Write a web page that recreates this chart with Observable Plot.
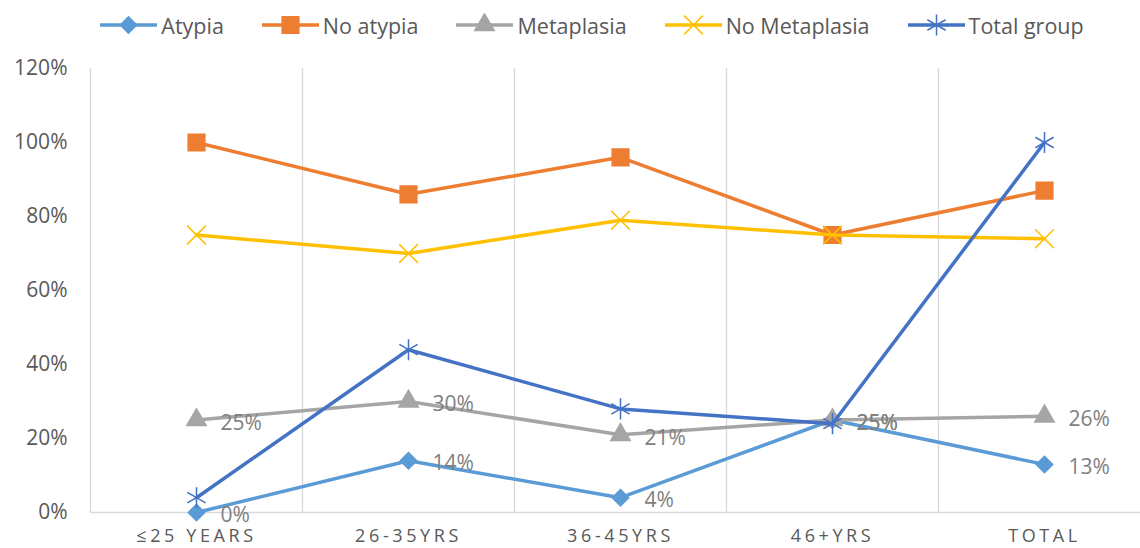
<!DOCTYPE html>
<html>
<head>
<meta charset="utf-8">
<script src="https://cdn.jsdelivr.net/npm/d3@7"></script>
<script src="https://cdn.jsdelivr.net/npm/@observablehq/plot@0.6"></script>
<style>
  html, body { margin: 0; padding: 0; background: #fff; }
  body { width: 1140px; height: 548px; overflow: hidden; font-family: "Open Sans", sans-serif; }
  #legend { height: 50px; display: flex; align-items: center; justify-content: center; padding-left: 44px; box-sizing: border-box; }
  .item { display: flex; align-items: center; margin-right: 38px; font-size: 21.5px; color: #595959; }
  .item:last-child { margin-right: 0; }
  .item svg { margin-right: 4px; }
  #chart g[aria-label="x-axis tick label"] text { letter-spacing: 3.6px; }
</style>
</head>
<body>
<div id="legend"></div>
<div id="chart"></div>
<script>
const categories = ["≤25 YEARS", "26-35YRS", "36-45YRS", "46+YRS", "TOTAL"];
const seriesNames = ["Atypia", "No atypia", "Metaplasia", "No Metaplasia", "Total group"];
const atypia = [0.00, 0.14, 0.04, 0.25, 0.13];
const noAtypia = [1.00, 0.86, 0.96, 0.75, 0.87];
const metaplasia = [0.25, 0.30, 0.21, 0.25, 0.26];
const noMetaplasia = [0.75, 0.70, 0.79, 0.75, 0.74];
const totalGroup = [0.04, 0.44, 0.28, 0.24, 1.00];
const labelledSeries = ["Atypia", "Metaplasia"];
const yTicks = [0, 0.2, 0.4, 0.6, 0.8, 1.0, 1.2];

const colors = {"Atypia": "#5B9BD5", "No atypia": "#ED7D31", "Metaplasia": "#A5A5A5", "No Metaplasia": "#FFC000", "Total group": "#4472C4"};
const styles = {
  "Atypia": {symbol: "diamond2", r: 7.4, filled: true},
  "No atypia": {symbol: "square", r: 9.4, filled: true},
  "Metaplasia": {symbol: "triangle", r: 7.2, filled: true},
  "No Metaplasia": {symbol: "times", r: 8.6, filled: false},
  "Total group": {symbol: "asterisk", r: 10, filled: false}
};
const values = [atypia, noAtypia, metaplasia, noMetaplasia, totalGroup];
const data = [];
seriesNames.forEach((s, si) => values[si].forEach((v, i) => data.push({series: s, i, cat: categories[i], value: v})));

// Legend
const d3sym = {"diamond2": d3.symbolDiamond2, "square": d3.symbolSquare, "triangle": d3.symbolTriangle, "times": d3.symbolTimes, "asterisk": d3.symbolAsterisk};
const legend = document.getElementById("legend");
seriesNames.forEach(s => {
  const st = styles[s];
  const item = document.createElement("div");
  item.className = "item";
  const w = 57, h = 24;
  const path = d3.symbol(d3sym[st.symbol], Math.PI * st.r * st.r)();
  item.innerHTML = `<svg width="${w}" height="${h}"><line x1="0" x2="${w}" y1="${h/2}" y2="${h/2}" stroke="${colors[s]}" stroke-width="3.5"/>` +
    `<path d="${path}" transform="translate(${w/2},${h/2})" fill="${st.filled ? colors[s] : "none"}" stroke="${colors[s]}" stroke-width="1.5"/></svg><span>${s}</span>`;
  legend.appendChild(item);
});

const grid = "#d9d9d9";
const marks = [
  Plot.ruleX([0.5, 1.5, 2.5, 3.5], {y1: 0, y2: 1.2, stroke: grid, strokeWidth: 1.3}),
  Plot.ruleX([-0.5], {y1: 0, y2: 1.2, stroke: grid, strokeWidth: 1.3}),
  Plot.ruleY([0], {stroke: grid, strokeWidth: 1.3}),
  Plot.axisY({ticks: yTicks, tickFormat: d3.format(".0%"), tickSize: 0, tickPadding: 23, fontSize: 21, fill: "#595959", label: null}),
  Plot.axisX({ticks: [0, 1, 2, 3, 4], tickFormat: i => categories[i], tickSize: 0, tickPadding: 17, fontSize: 18, fill: "#595959", label: null})
];
seriesNames.forEach(s => {
  const st = styles[s];
  const d = data.filter(d => d.series === s);
  marks.push(Plot.line(d, {x: "i", y: "value", stroke: colors[s], strokeWidth: 3.5, curve: "linear"}));
  marks.push(Plot.dot(d, {x: "i", y: "value", symbol: () => st.symbol, r: st.r,
    fill: st.filled ? colors[s] : "none", stroke: colors[s], strokeWidth: 1.5}));
});
marks.push(Plot.text(data.filter(d => labelledSeries.includes(d.series)), {
  x: "i", y: "value", text: d => d3.format(".0%")(d.value), textAnchor: "start", dx: 24, dy: 3,
  fontSize: 21, fill: "#7f7f7f"
}));

const chart = Plot.plot({
  width: 1140,
  height: 498,
  marginTop: 18,
  marginBottom: 36,
  marginLeft: 90,
  marginRight: 0,
  style: {fontFamily: "Open Sans, sans-serif", background: "#fff", overflow: "visible"},
  x: {type: "linear", domain: [-0.5, 4.5], range: [90, 1150], label: null},
  y: {domain: [0, 1.2], label: null},
  symbol: {type: "identity"},
  marks
});
document.getElementById("chart").appendChild(chart);
</script>
</body>
</html>
